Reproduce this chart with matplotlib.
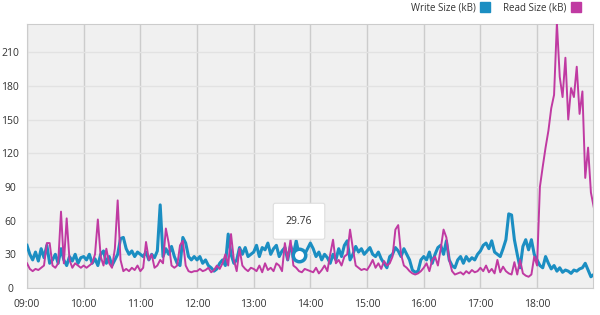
import matplotlib
matplotlib.use('Agg')
import matplotlib.pyplot as plt
import matplotlib.dates as mdates
from matplotlib.lines import Line2D
import pandas as pd

# 3-minute samples from 09:00, one row of 20 per hour
write_kb = [
    38, 30, 25, 32, 24, 35, 27, 38, 22, 25, 30, 22, 35, 25, 20, 28, 24, 30, 22, 27,
    28, 25, 30, 22, 26, 20, 30, 33, 22, 28, 20, 25, 30, 44, 45, 35, 30, 33, 28, 32,
    30, 28, 32, 25, 30, 27, 33, 74, 28, 35, 30, 37, 28, 22, 20, 45, 40, 28, 25, 28,
    25, 28, 22, 25, 20, 18, 15, 17, 22, 25, 20, 48, 30, 22, 25, 36, 30, 36, 28, 30,
    32, 38, 28, 36, 34, 40, 30, 35, 38, 28, 33, 36, 25, 38, 30, 42, 29.76, 32, 30, 35,
    40, 35, 28, 32, 25, 30, 27, 22, 30, 25, 35, 28, 38, 42, 25, 30, 37, 32, 35, 30,
    33, 36, 30, 28, 32, 26, 22, 18, 28, 30, 36, 33, 28, 35, 30, 25, 16, 14, 15, 25,
    28, 25, 32, 22, 30, 36, 38, 30, 42, 25, 20, 18, 25, 28, 22, 28, 24, 27, 25, 30,
    33, 38, 40, 35, 42, 32, 30, 28, 35, 43, 66, 65, 43, 30, 18, 37, 43, 34, 43, 30,
    25, 20, 18, 28, 22, 17, 20, 15, 18, 14, 16, 15, 13, 16, 15, 17, 18, 22, 16, 10,
    12,
]
read_kb = [
    22, 17, 15, 17, 16, 18, 20, 40, 40, 20, 18, 22, 68, 22, 62, 25, 18, 22, 20, 18,
    20, 18, 20, 22, 30, 61, 28, 20, 35, 22, 18, 35, 78, 25, 15, 17, 15, 18, 16, 20,
    15, 18, 41, 25, 30, 18, 20, 25, 22, 53, 40, 20, 18, 20, 38, 42, 20, 15, 14, 15,
    15, 17, 15, 16, 18, 14, 16, 20, 17, 22, 30, 20, 48, 25, 15, 35, 20, 17, 15, 18,
    17, 15, 20, 14, 22, 16, 18, 15, 22, 20, 15, 40, 25, 43, 20, 18, 15, 14, 17, 16,
    15, 14, 18, 13, 16, 20, 15, 30, 43, 22, 25, 20, 28, 30, 52, 35, 20, 18, 16, 17,
    16, 20, 25, 18, 22, 17, 24, 20, 22, 28, 52, 56, 30, 20, 18, 15, 13, 12, 13, 15,
    18, 22, 15, 25, 28, 20, 35, 52, 45, 25, 15, 12, 13, 14, 12, 15, 13, 16, 14, 15,
    18, 15, 20, 14, 17, 13, 25, 14, 19, 15, 13, 12, 23, 12, 25, 13, 11, 10, 12, 28,
    20, 90, 108, 125, 140, 160, 172, 236, 188, 170, 205, 150, 178, 170, 197, 155, 175, 98, 125, 85,
    72,
]
times = pd.date_range('2020-01-01 09:00', periods=len(write_kb), freq='3min')
y_ticks = [0, 30, 60, 90, 120, 150, 180, 210]
hover_idx = 96

blue = '#1b8ec2'
magenta = '#c03aa2'

plt.rcParams['font.family'] = ['Open Sans', 'DejaVu Sans']

fig = plt.figure(figsize=(6, 3.15), dpi=100)
ax = fig.add_axes([0.045, 0.0857, 0.943, 0.838])
ax.set_facecolor('#f0f0f0')

ax.plot(times, write_kb, color=blue, lw=2.2, zorder=3)
ax.plot(times, read_kb, color=magenta, lw=1.4, zorder=4)

# hovered point and tooltip
ax.plot(times[hover_idx], write_kb[hover_idx], 'o', ms=9, mfc='white',
        mec=blue, mew=2.5, zorder=6)
ax.annotate(f'{write_kb[hover_idx]:.2f}', (times[hover_idx], write_kb[hover_idx]),
            xytext=(0, 24), textcoords='offset points', ha='center', va='center',
            fontsize=7.5, color='#333333', zorder=7,
            bbox=dict(boxstyle='round,pad=1.2,rounding_size=0.2', fc='white',
                      ec='#dddddd', lw=0.8))

ax.set_xlim(times[0], pd.Timestamp('2020-01-01 18:59'))
ax.set_ylim(0, 235)
ax.set_yticks(y_ticks)
ax.xaxis.set_major_locator(mdates.HourLocator())
ax.xaxis.set_major_formatter(mdates.DateFormatter('%H:%M'))

ax.grid(axis='x', color='#cccccc', lw=1)
ax.grid(axis='y', color='#e2e2e2', lw=1)
ax.set_axisbelow(True)
for s in ax.spines.values():
    s.set_color('#cccccc')
ax.tick_params(length=0, labelsize=7.5, labelcolor='#333333')
ax.tick_params(axis='y', pad=12)
ax.tick_params(axis='x', pad=8)
for lbl in ax.get_yticklabels():
    lbl.set_horizontalalignment('center')

handles = [Line2D([], [], ls='none', marker='s', ms=7, color=blue),
           Line2D([], [], ls='none', marker='s', ms=7, color=magenta)]
fig.legend(handles, ['Write Size (kB)', 'Read Size (kB)'], ncol=2,
           markerfirst=False, frameon=False, fontsize=7, loc='upper right',
           bbox_to_anchor=(0.982, 1.02), handletextpad=0.45, columnspacing=1.3,
           handlelength=1.0, labelcolor='#333333')

fig.savefig('out.png', dpi=100)
